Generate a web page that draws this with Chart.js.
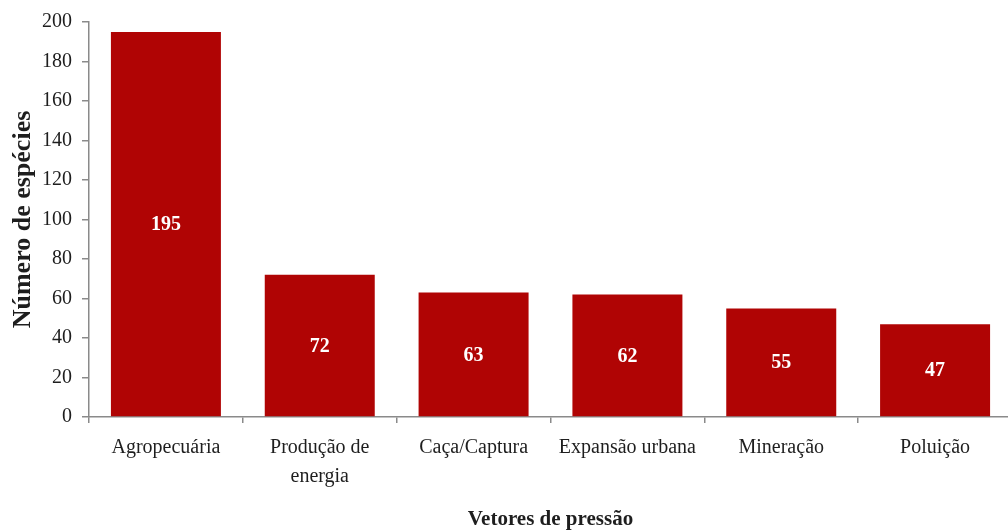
<!DOCTYPE html>
<html>
<head>
<meta charset="utf-8">
<script src="https://cdn.jsdelivr.net/npm/chart.js@4"></script>
<style>
  html, body { margin: 0; padding: 0; background: #fff; }
  /* canvas is a few px wider than the page; the last bar's slot runs off the edge */
  #wrap { width: 1008px; height: 532px; overflow: hidden; }
</style>
</head>
<body>
<div id="wrap"><canvas id="myChart" width="1012" height="532"></canvas></div>
<script>
// pressure vectors and number of threatened species
var categories = ['Agropecuária', ['Produção de', 'energia'], 'Caça/Captura', 'Expansão urbana', 'Mineração', 'Poluição'];
var species = [195, 72, 63, 62, 55, 47];
var yTicks = [0, 20, 40, 60, 80, 100, 120, 140, 160, 180, 200];

var serif = '"Liberation Serif", "Times New Roman", serif';
var barColor = '#b00404';
var axisColor = '#8a8a8a';
var textColor = '#1e1e1e';

// white value labels in the middle of each bar
var valueLabels = {
  id: 'valueLabels',
  afterDatasetsDraw: function (chart) {
    var ctx = chart.ctx;
    var meta = chart.getDatasetMeta(0);
    ctx.save();
    ctx.fillStyle = '#fff';
    ctx.font = 'bold 20px ' + serif;
    ctx.textAlign = 'center';
    ctx.textBaseline = 'middle';
    meta.data.forEach(function (bar, i) {
      ctx.fillText(species[i], bar.x, (bar.y + bar.base) / 2 + 1);
    });
    ctx.restore();
  }
};

window.onload = function () {
  var ctx = document.getElementById('myChart').getContext('2d');
  new Chart(ctx, {
    type: 'bar',
    data: {
      labels: categories,
      datasets: [{
        data: species,
        backgroundColor: barColor,
        borderWidth: 0,
        barPercentage: 0.715,
        categoryPercentage: 1
      }]
    },
    options: {
      responsive: false,
      animation: false,
      layout: { padding: { top: 21, right: 0, bottom: 0, left: 0 } },
      plugins: {
        legend: { display: false },
        tooltip: { enabled: false }
      },
      scales: {
        x: {
          afterFit: function (scale) { scale.height = 115; },
          border: { color: axisColor, width: 1.5 },
          grid: {
            offset: true,
            drawOnChartArea: false,
            drawTicks: true,
            tickLength: 6,
            color: axisColor,
            lineWidth: 1.5
          },
          ticks: {
            color: textColor,
            padding: 11,
            maxRotation: 0,
            autoSkip: false,
            font: { family: serif, size: 20, lineHeight: 1.42 }
          },
          title: {
            display: true,
            text: 'Vetores de pressão',
            color: textColor,
            padding: { top: 0, bottom: 0 },
            font: { family: serif, size: 21, weight: 'bold' }
          }
        },
        y: {
          min: 0,
          max: 200,
          afterFit: function (scale) { scale.width = 89; },
          afterBuildTicks: function (scale) {
            scale.ticks = yTicks.map(function (v) { return { value: v }; });
          },
          border: { color: axisColor, width: 1.5 },
          grid: {
            drawOnChartArea: false,
            drawTicks: true,
            tickLength: 7,
            color: axisColor,
            lineWidth: 1.5
          },
          ticks: {
            color: textColor,
            padding: 10,
            font: { family: serif, size: 20 }
          },
          title: {
            display: true,
            text: 'Número de espécies',
            color: textColor,
            padding: { top: 8, bottom: 0 },
            font: { family: serif, size: 26, weight: 'bold' }
          }
        }
      }
    },
    plugins: [valueLabels]
  });
};
</script>
</body>
</html>
